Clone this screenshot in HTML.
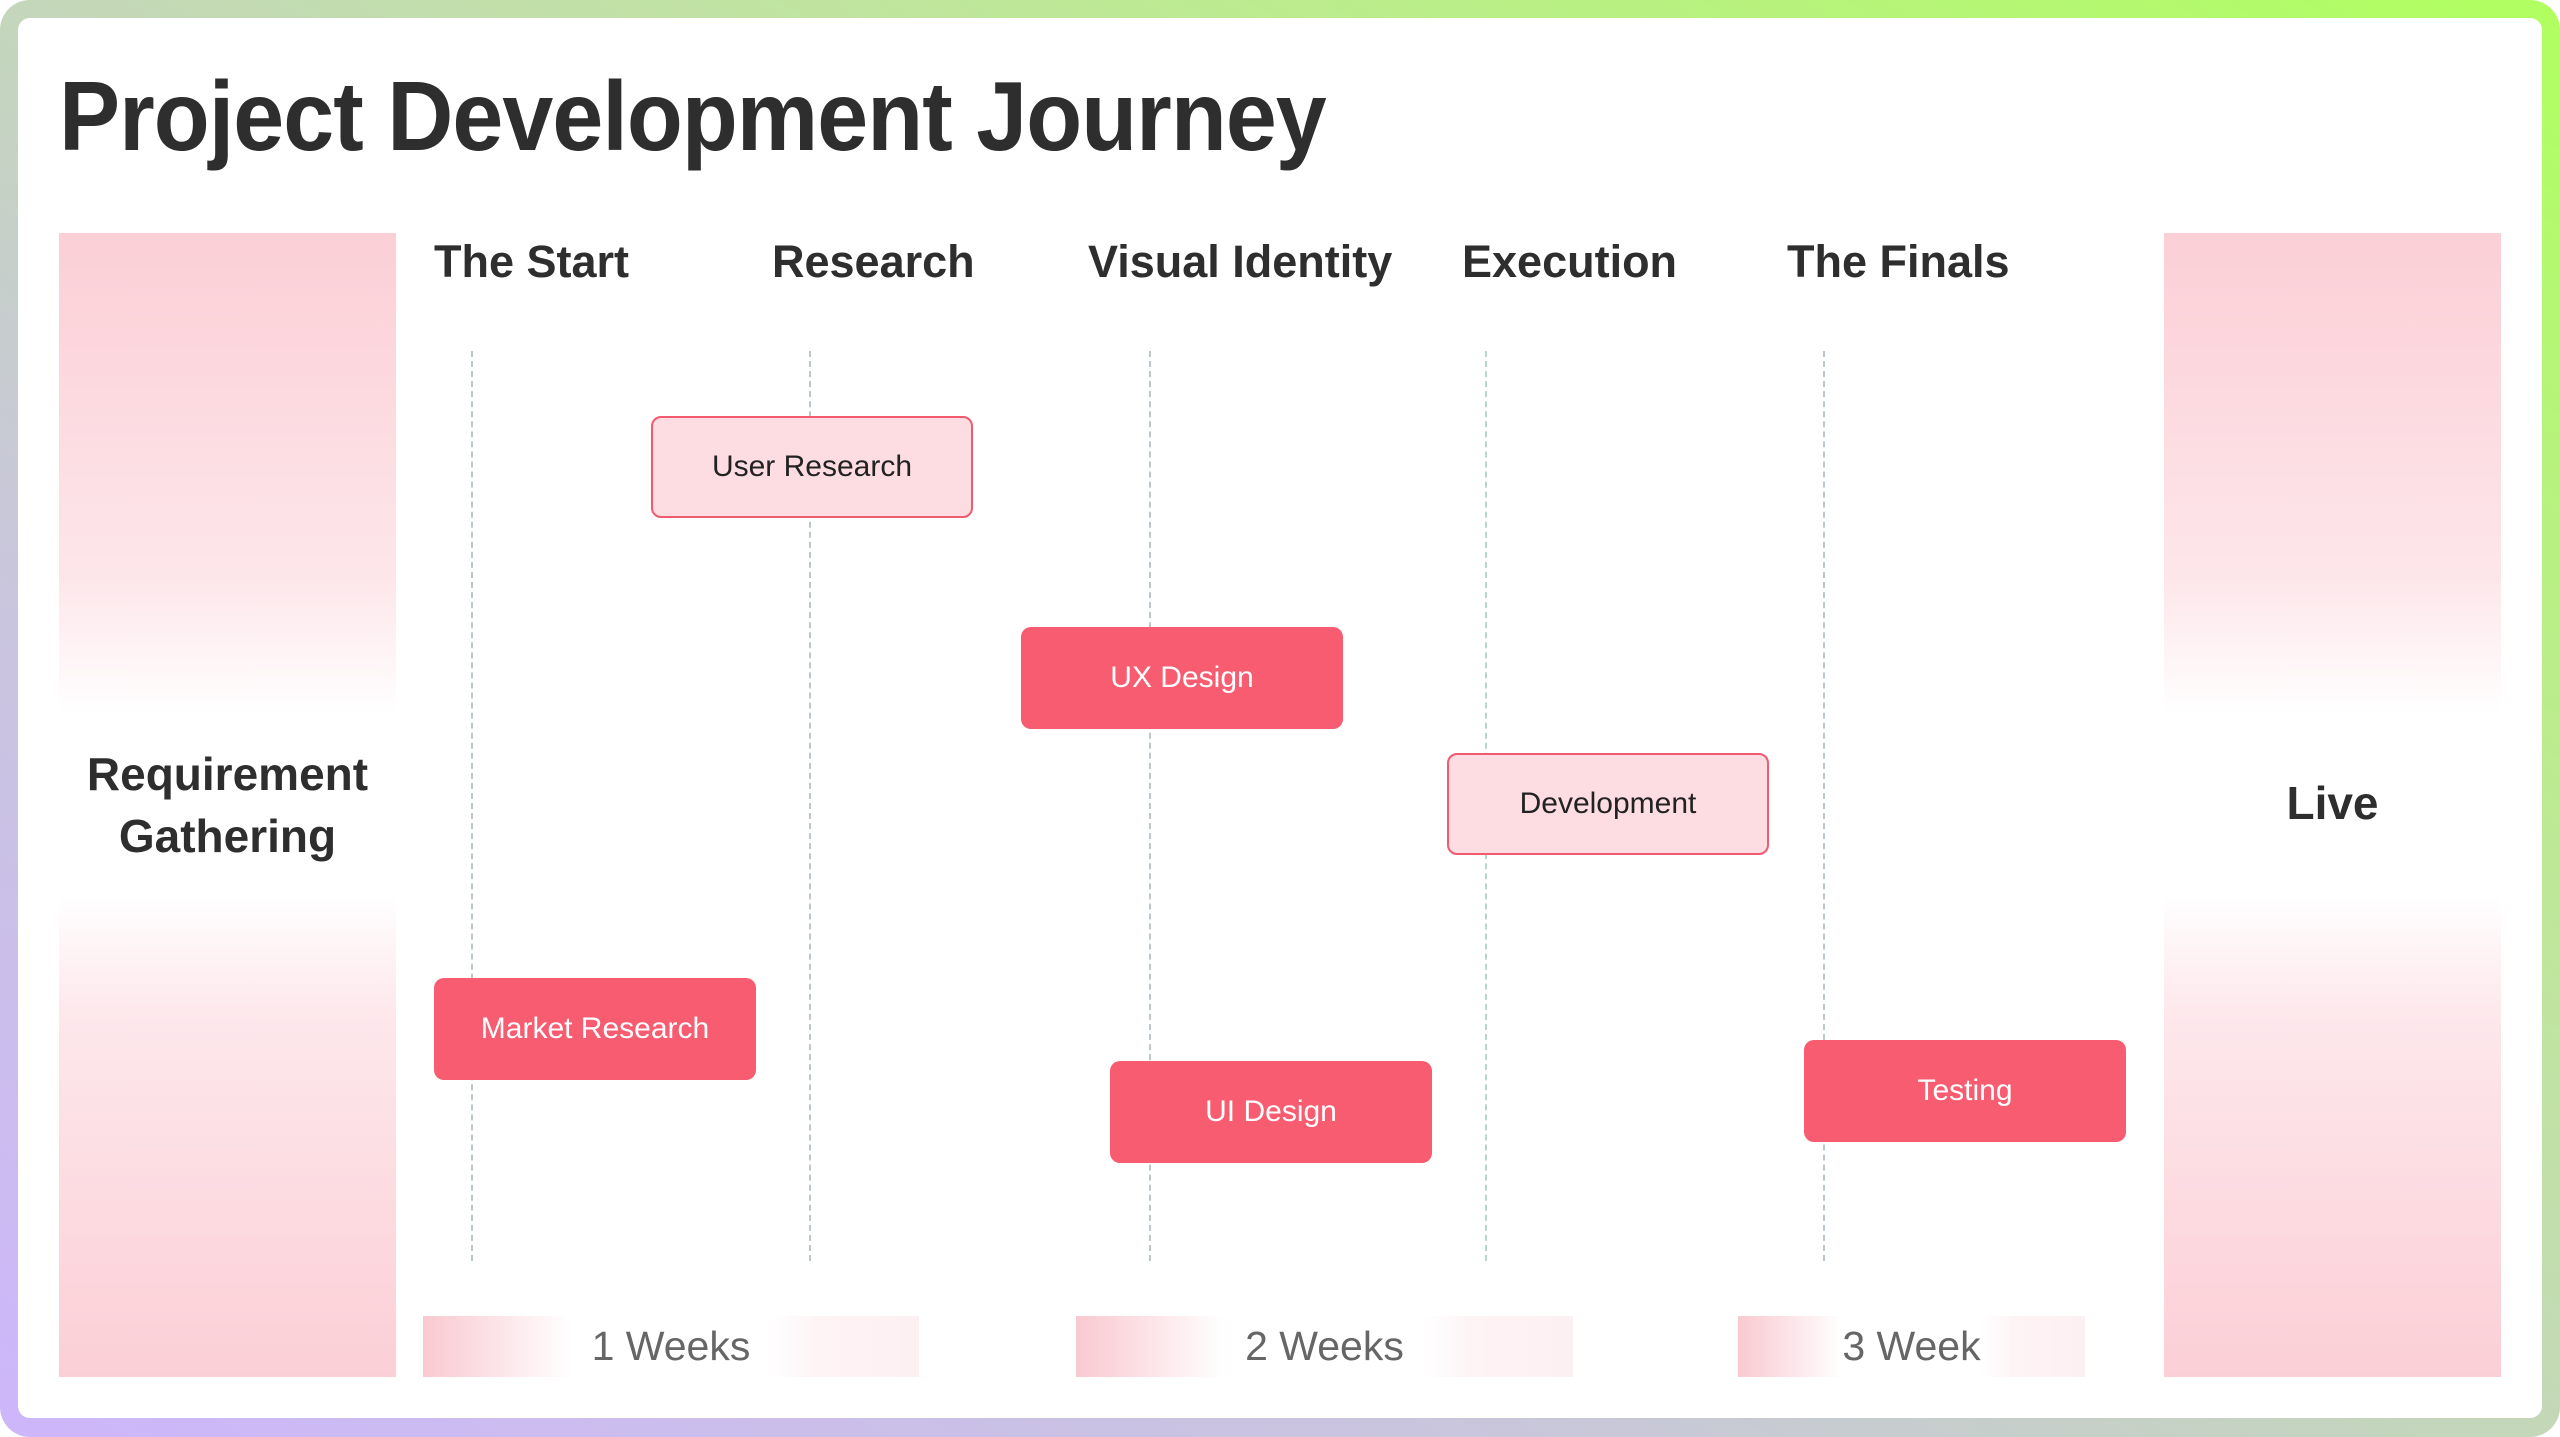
<!DOCTYPE html>
<html><head><meta charset="utf-8"><style>
*{margin:0;padding:0;box-sizing:border-box}
body{width:2560px;height:1437px;overflow:hidden;background:#fff;font-family:"Liberation Sans",sans-serif}
#frame{position:absolute;left:0;top:0;width:2560px;height:1437px;border-radius:30px;background:linear-gradient(30deg,#cdb6fb 0%,#c9c6dc 30%,#c0e4a0 65%,#b0ff5f 100%)}
#inner{position:absolute;left:18px;top:18px;width:2524px;height:1400px;background:#fff;border-radius:12px}
h1{position:absolute;left:59px;top:60px;font-size:98px;font-weight:bold;color:#2e2e2e;letter-spacing:-1px;white-space:nowrap;transform:scaleX(0.934);transform-origin:left top}
.panel{position:absolute;top:233px;height:1144px;width:337px;background:linear-gradient(180deg,#fbcfd6 0%,#fde6ea 30%,#fff 42%,#fff 58%,#fde8ec 68%,#fbcfd6 100%)}
.pl{position:absolute;font-size:46px;font-weight:bold;color:#2e2e2e;text-align:center;line-height:62px}
.hd{position:absolute;top:236px;font-size:45px;font-weight:bold;color:#2e2e2e;white-space:nowrap}
.dl{position:absolute;top:351px;height:910px;width:0;border-left:2px dashed #bcc7cc}
.bx{position:absolute;width:322px;height:102px;border-radius:10px;display:flex;align-items:center;justify-content:center;font-size:30px}
.f{background:#f85c70;color:#fff}
.l{background:#fddde2;border:2px solid #f25a6e;color:#222}
.wk{position:absolute;top:1316px;height:61px;background:linear-gradient(90deg,#f9c9d1 0%,#fff 30%,#fff 70%,#fef3f5 80%,#fdf0f3 100%);display:flex;align-items:center;justify-content:center;font-size:41px;color:#666}
</style></head><body>
<div id="frame"></div><div id="inner"></div>
<h1>Project Development Journey</h1>
<div class="panel" style="left:59px"></div>
<div class="panel" style="left:2164px"></div>
<div class="pl" style="left:59px;width:337px;top:743px">Requirement<br>Gathering</div>
<div class="pl" style="left:2164px;width:337px;top:772px">Live</div>
<div class="hd" style="left:434px">The Start</div>
<div class="hd" style="left:772px">Research</div>
<div class="hd" style="left:1088px">Visual Identity</div>
<div class="hd" style="left:1462px">Execution</div>
<div class="hd" style="left:1787px">The Finals</div>
<div class="dl" style="left:471px"></div>
<div class="dl" style="left:809px"></div>
<div class="dl" style="left:1149px"></div>
<div class="dl" style="left:1485px;border-color:#b7d6cc"></div>
<div class="dl" style="left:1823px"></div>
<div class="bx l" style="left:651px;top:416px">User Research</div>
<div class="bx f" style="left:1021px;top:627px">UX Design</div>
<div class="bx l" style="left:1447px;top:753px">Development</div>
<div class="bx f" style="left:434px;top:978px">Market Research</div>
<div class="bx f" style="left:1110px;top:1061px">UI Design</div>
<div class="bx f" style="left:1804px;top:1040px">Testing</div>
<div class="wk" style="left:423px;width:496px">1 Weeks</div>
<div class="wk" style="left:1076px;width:497px">2 Weeks</div>
<div class="wk" style="left:1738px;width:347px">3 Week</div>
</body></html>
